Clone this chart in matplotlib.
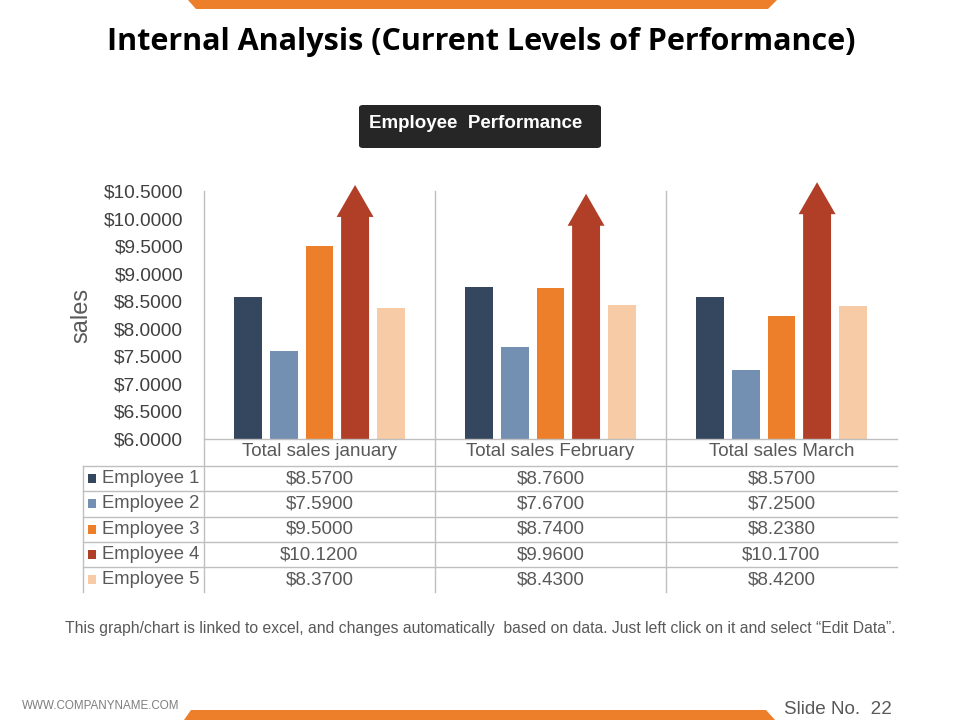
import matplotlib
matplotlib.use("Agg")
import matplotlib.pyplot as plt
from matplotlib.patches import Polygon, FancyBboxPatch, Rectangle
from matplotlib.lines import Line2D

# ---- data ----
categories = ["Total sales january", "Total sales February", "Total sales March"]
series_names = ["Employee 1", "Employee 2", "Employee 3", "Employee 4", "Employee 5"]
employee1 = [8.57, 8.76, 8.57]
employee2 = [7.59, 7.67, 7.25]
employee3 = [9.50, 8.74, 8.238]
employee4 = [10.12, 9.96, 10.17]
employee5 = [8.37, 8.43, 8.42]
series_values = [employee1, employee2, employee3, employee4, employee5]
colors = ["#34475F", "#7390B2", "#EE7F2A", "#B13F27", "#F7CBA6"]
yticks = [6.0, 6.5, 7.0, 7.5, 8.0, 8.5, 9.0, 9.5, 10.0, 10.5]

W, H = 960, 720
fig = plt.figure(figsize=(9.6, 7.2), dpi=100)
plt.rcParams['font.family'] = ['Liberation Sans', 'DejaVu Sans']

def fx(x):
    return x / W

def fy(y):
    return 1 - y / H

# ---- banners ----
fig.patches.append(Polygon([[fx(188), fy(0)], [fx(777), fy(0)], [fx(768), fy(9)], [fx(196), fy(9)]],
                           closed=True, transform=fig.transFigure, facecolor="#EE7F2A", edgecolor="none"))
fig.patches.append(Polygon([[fx(191), fy(710)], [fx(766), fy(710)], [fx(775), fy(720)], [fx(184), fy(720)]],
                           closed=True, transform=fig.transFigure, facecolor="#EE7F2A", edgecolor="none"))

# ---- title ----
fig.text(fx(481), fy(42), "Internal Analysis (Current Levels of Performance)", ha="center", va="center",
         fontsize=22, fontweight="bold", family=["Open Sans", "DejaVu Sans"], color="black")

# ---- chart title box ----
fig.patches.append(FancyBboxPatch((fx(359), fy(148)), fx(242), 43 / H,
                                  boxstyle="round,pad=0,rounding_size=0.004",
                                  transform=fig.transFigure, facecolor="#262626", edgecolor="none"))
fig.text(fx(476), fy(124), "Employee  Performance", ha="center", va="center",
         fontsize=13.5, fontweight="bold", color="white")

# ---- main axes ----
left, right, top, bottom = 204, 897, 191, 439
ax = fig.add_axes([fx(left), fy(bottom), (right - left) / W, (bottom - top) / H])
ax.set_xlim(-0.5, 2.5)
ax.set_ylim(6.0, 10.5)
for s in ax.spines.values():
    s.set_visible(False)
ax.set_xticks([])
ax.set_yticks(yticks)
ax.set_yticklabels([f"${t:.4f}" for t in yticks], fontsize=13.8, color="#404040")
ax.tick_params(axis="y", length=0, pad=15)
ax.set_ylabel("sales", fontsize=17, color="#595959", labelpad=8)
ax.patch.set_alpha(0)

bw = 0.121
step = 0.154
offsets = [(i - 2) * step for i in range(5)]
unit_px = (bottom - top) / 4.5  # px per data unit
for i, vals in enumerate(series_values):
    xs = [g + offsets[i] for g in range(3)]
    if i == 3:
        for x, v in zip(xs, vals):
            base_off = 5 / unit_px
            tip_off = 27 / unit_px
            hw = 0.08
            shaft_top = v - base_off
            poly = Polygon([[x - bw / 2, 6.0], [x + bw / 2, 6.0], [x + bw / 2, shaft_top],
                            [x + hw, shaft_top], [x, v + tip_off], [x - hw, shaft_top],
                            [x - bw / 2, shaft_top]], closed=True, facecolor=colors[i],
                           edgecolor="none", clip_on=False, zorder=3)
            ax.add_patch(poly)
    else:
        ax.bar(xs, [v - 6.0 for v in vals], bottom=6.0, width=bw, color=colors[i], zorder=3)

grid_col = "#BFBFBF"
# x axis line
fig.add_artist(Line2D([fx(left), fx(right)], [fy(bottom), fy(bottom)], color=grid_col, lw=1))
# vertical separators
group_w = (right - left) / 3
for k in range(3):
    xp = left + k * group_w
    fig.add_artist(Line2D([fx(xp), fx(xp)], [fy(top), fy(592)], color=grid_col, lw=1))
# category labels
for k, c in enumerate(categories):
    fig.text(fx(left + (k + 0.5) * group_w), fy(452), c, ha="center", va="center",
             fontsize=13.5, color="#595959")

# ---- data table ----
tleft = 83
row_tops = [466, 491, 516.5, 542, 567]
row_h = 25.4
fig.add_artist(Line2D([fx(tleft), fx(tleft)], [fy(466), fy(592)], color=grid_col, lw=1))
for r in row_tops:
    fig.add_artist(Line2D([fx(tleft), fx(right)], [fy(r), fy(r)], color=grid_col, lw=1))
for i, name in enumerate(series_names):
    yc = row_tops[i] + row_h / 2
    fig.patches.append(Rectangle((fx(88), fy(yc + 4.5)), 8 / W, 9 / H, transform=fig.transFigure,
                                 facecolor=colors[i], edgecolor="none"))
    fig.text(fx(102), fy(yc), name, ha="left", va="center", fontsize=13.3, color="#595959")
    for k in range(3):
        fig.text(fx(left + (k + 0.5) * group_w), fy(yc), f"${series_values[i][k]:.4f}",
                 ha="center", va="center", fontsize=13.5, color="#595959")

# ---- footnote ----
fig.text(fx(480), fy(628), "This graph/chart is linked to excel, and changes automatically  based on data. Just left click on it and select \u201cEdit Data\u201d.",
         ha="center", va="center", fontsize=11.3, color="#595959")
fig.text(fx(22), fy(706), "WWW.COMPANYNAME.COM", ha="left", va="center", fontsize=8.4, color="#7F7F7F")
fig.text(fx(892), fy(709), "Slide No.  22", ha="right", va="center", fontsize=13.6, color="#595959")

fig.savefig("out.png", dpi=100)
